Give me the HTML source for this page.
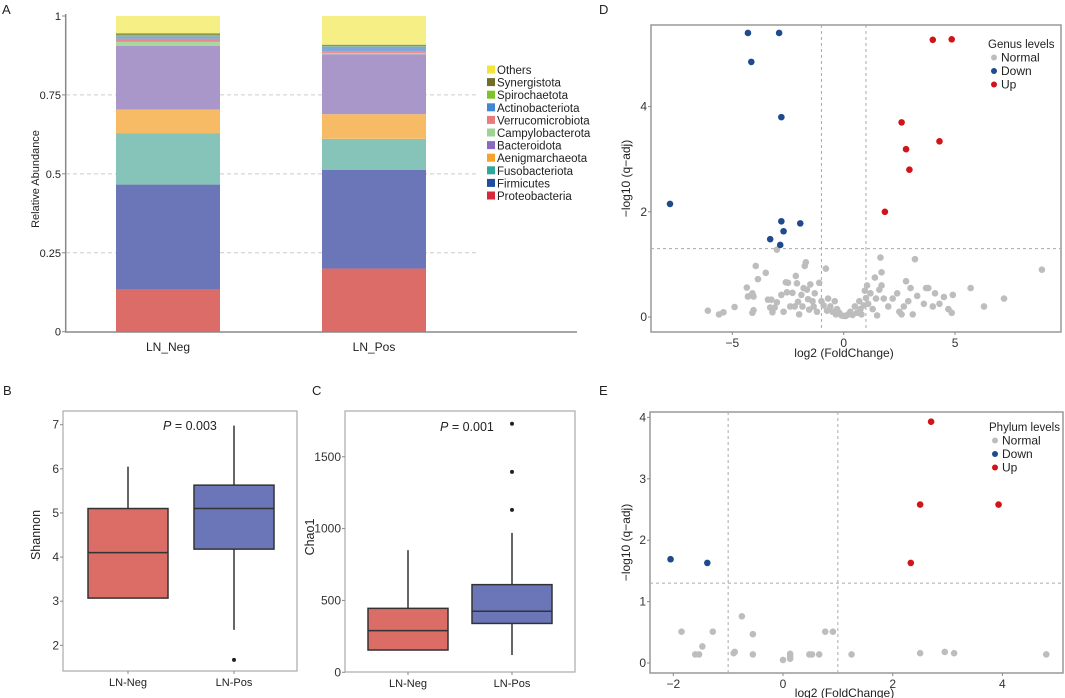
<!DOCTYPE html>
<html><head><meta charset="utf-8"><style>
html,body{margin:0;padding:0;background:#fff}
svg{display:block;font-family:"Liberation Sans",Arial,sans-serif}
</style></head><body>
<svg id="fig" width="1065" height="698" viewBox="0 0 1065 698" xmlns="http://www.w3.org/2000/svg">
<g font-size="13" fill="#222">
<text x="2" y="14">A</text>
<text x="3" y="395">B</text>
<text x="312" y="395">C</text>
<text x="599" y="14">D</text>
<text x="599" y="395">E</text>
</g>
</svg>
<script>
// ---------- Panel A data ----------
const taxa = ["Proteobacteria","Firmicutes","Fusobacteriota","Aenigmarchaeota","Bacteroidota","Campylobacterota","Verrucomicrobiota","Actinobacteriota","Spirochaetota","Synergistota","Others"];
const groupsA = ["LN_Neg","LN_Pos"];
const negValues = [0.133,0.333,0.163,0.075,0.202,0.012,0.010,0.008,0.005,0.004,0.055];
const posValues = [0.200,0.313,0.098,0.078,0.190,0.004,0.005,0.016,0.002,0.003,0.091];
const ticksA = [0,0.25,0.5,0.75,1];
const tickLabelsA = ["0","0.25","0.5","0.75","1"];
// ---------- Panel B data ----------
const groupsBC = ["LN-Neg","LN-Pos"];
const shannonNeg = {lo:3.07,q1:3.07,med:4.1,q3:5.1,hi:6.05};
const shannonPos = {lo:2.35,q1:4.18,med:5.1,q3:5.63,hi:6.98};
const shannonOut = [[1,1.67]];
const ticksB = [2,3,4,5,6,7];
// ---------- Panel C data ----------
const chaoNeg = {lo:155,q1:155,med:290,q3:445,hi:850};
const chaoPos = {lo:120,q1:340,med:425,q3:610,hi:970};
const chaoOut = [[1,1130],[1,1395],[1,1730]];
const ticksC = [0,500,1000,1500];
// ---------- Panel D data ----------
const dDownX = [-4.3,-2.9,-4.15,-2.8,-7.8,-2.8,-1.95,-2.7,-3.3,-2.85];
const dDownY = [5.4,5.4,4.85,3.8,2.15,1.82,1.78,1.63,1.48,1.37];
const dUpX = [4.0,4.85,2.6,4.3,2.8,2.95,1.85];
const dUpY = [5.27,5.28,3.7,3.34,3.19,2.8,2.0];
const dNormX = [-6.1,-5.6,-5.4,-4.9,-4.1,-4.05,-3.95,-4.35,-4.3,-4.05,-4.1,-3.85,-3.5,-3.4,-3.3,-3.25,-3.1,-3.2,-3.0,-3.0,-2.8,-2.7,-2.6,-2.55,-2.5,-2.4,-2.3,-2.2,-2.15,-2.1,-2.05,-2.0,-1.9,-1.85,-1.8,-1.75,-1.7,-1.65,-1.6,-1.55,-1.5,-1.4,-1.35,-1.3,-1.2,-1.1,-1.0,-0.9,-0.8,-0.75,-0.7,-0.6,-0.5,-0.4,-0.35,-0.3,-0.2,-0.1,0,0.1,0.2,0.3,0.4,0.5,0.6,0.7,0.75,0.8,0.9,0.95,1.0,1.05,1.1,1.2,1.3,1.4,1.45,1.5,1.6,1.65,1.7,1.7,1.8,2.0,2.2,2.4,2.5,2.6,2.8,2.7,2.9,3.0,3.1,3.2,3.3,3.6,3.7,3.8,4.0,4.1,4.3,4.5,4.7,4.9,4.85,5.7,6.3,7.2,8.9];
const dNormY = [0.12,0.05,0.09,0.19,0.08,0.13,0.97,0.56,0.39,0.39,0.45,0.72,0.84,0.33,0.18,0.33,0.18,0.09,0.28,1.28,0.42,0.1,0.66,0.47,0.65,0.2,0.46,0.2,0.78,0.64,0.29,0.05,0.42,0.2,0.55,0.97,1.04,0.52,0.34,0.14,0.62,0.3,0.2,0.45,0.1,0.65,0.3,0.22,0.92,0.12,0.35,0.2,0.1,0.3,0.05,0.15,0.08,0.03,0.02,0.02,0.05,0.1,0.04,0.2,0.08,0.3,0.15,0.05,0.22,0.5,0.36,0.6,0.25,0.45,0.15,0.75,0.35,0.03,0.52,1.13,0.85,0.6,0.35,0.2,0.35,0.45,0.1,0.05,0.68,0.2,0.3,0.55,0.05,1.1,0.4,0.25,0.55,0.55,0.2,0.45,0.25,0.38,0.15,0.42,0.08,0.55,0.2,0.35,0.9];
const ticksDX = [-5,0,5];
const ticksDY = [0,2,4];
// ---------- Panel E data ----------
const eDownX = [-2.05,-1.38];
const eDownY = [1.69,1.63];
const eUpX = [2.7,2.5,3.93,2.33];
const eUpY = [3.93,2.58,2.58,1.63];
const eNormX = [-1.85,-1.6,-1.53,-1.47,-1.28,-0.75,-0.9,-0.88,-0.55,-0.55,0,0.13,0.13,0.13,0.48,0.53,0.66,0.77,0.91,1.25,2.5,2.95,3.12,4.8];
const eNormY = [0.51,0.14,0.14,0.27,0.51,0.76,0.16,0.18,0.47,0.14,0.05,0.07,0.11,0.15,0.14,0.14,0.14,0.51,0.51,0.14,0.16,0.18,0.16,0.14];
const ticksEX = [-2,0,2,4];
const ticksEY = [0,1,2,3,4];

const NS="http://www.w3.org/2000/svg";
const svg=document.getElementById('fig');
function mk(tag,attrs,parent,txt){const e=document.createElementNS(NS,tag);for(const k in attrs)e.setAttribute(k,attrs[k]);if(txt!==undefined)e.textContent=txt;(parent||svg).appendChild(e);return e;}
function grp(name){const g=mk('g',{});


return g;}

// ================= Panel A =================
(function(){
const g=grp('panel-a-stacked-bar');
const y=v=>331.7-v*315.7;
const barX=[116,322], barW=104, centers=[168,374];
const colors=["#dc6c68","#6a76b8","#86c3b9","#f7bb66","#a897c8","#a9d7a0","#ea8a8a","#7fa7d9","#8cc63f","#7b7a35","#f5ef86"];
const lcolors=["#d8283c","#1f4ea0","#2fa89a","#f6a22b","#8a6bbf","#9dd494","#ea7b7b","#3f87d0","#7cc42a","#6f6f2a","#f2e63a"];
ticksA.forEach((t,i)=>{
 if(t>0&&t<1){const l=mk('line',{x1:66,x2:477,y1:y(t),y2:y(t),stroke:'#ccc','stroke-dasharray':'4,3','stroke-width':1},g);
 
 }
});
[negValues,posValues].forEach((vals,gi)=>{
 let acc=0;
 vals.forEach((v,i)=>{
  const r=mk('rect',{x:barX[gi],y:y(acc+v),width:barW,height:y(acc)-y(acc+v),fill:colors[i]},g);
  
  
  acc+=v;
 });
 const t=mk('text',{x:centers[gi],y:351,'font-size':12,'text-anchor':'middle',fill:'#222'},g,groupsA[gi]);
 
 
});
mk('line',{x1:65.7,x2:65.7,y1:14,y2:332,stroke:'#888','stroke-width':1.5},g);
mk('line',{x1:65,x2:577,y1:332,y2:332,stroke:'#888','stroke-width':1.5},g);
ticksA.forEach((t,i)=>{
 mk('line',{x1:62,x2:66,y1:y(t),y2:y(t),stroke:'#888'},g);
 const tx=mk('text',{x:61,y:y(t)+4,'font-size':11,'text-anchor':'end',fill:'#222'},g,tickLabelsA[i]);
 
 
});
const yt=mk('text',{x:0,y:0,'font-size':11,'text-anchor':'middle',fill:'#222',transform:'translate(39,179) rotate(-90)'},g,'Relative Abundance');


for(let i=taxa.length-1,row=0;i>=0;i--,row++){
 const yy=70+row*12.6;
 const s=mk('rect',{x:487,y:yy-4.5,width:8,height:8,fill:lcolors[i]},g);
 
 
 const t=mk('text',{x:497,y:yy+4,'font-size':11.5,fill:'#222'},g,taxa[i]);
 
 
}
})();

// ================= Box plots =================
function boxPanel(name,box,ticks,yfn,centers,stats,outs,ptext,px,py,title,tx,ty){
 const g=grp(name);
 mk('rect',{x:box[0],y:box[1],width:box[2]-box[0],height:box[3]-box[1],fill:'none',stroke:'#aaa','stroke-width':1.2},g);
 ticks.forEach(t=>{
  mk('line',{x1:box[0]-3,x2:box[0],y1:yfn(t),y2:yfn(t),stroke:'#888'},g);
  const tl=mk('text',{x:box[0]-4,y:yfn(t)+4,'font-size':12,'text-anchor':'end',fill:'#333'},g,String(t));
  
  
 });
 const fills=['#dc6c66','#6a76b8'];
 stats.forEach((s,i)=>{
  const c=centers[i],w=40;
  mk('line',{x1:c,x2:c,y1:yfn(s.hi),y2:yfn(s.lo),stroke:'#333','stroke-width':1.5},g);
  const r=mk('rect',{x:c-w,y:yfn(s.q3),width:2*w,height:yfn(s.q1)-yfn(s.q3),fill:fills[i],stroke:'#333','stroke-width':1.5},g);
  
  
  mk('line',{x1:c-w,x2:c+w,y1:yfn(s.med),y2:yfn(s.med),stroke:'#333','stroke-width':1.5},g);
  mk('line',{x1:c,x2:c,y1:box[3],y2:box[3]+3,stroke:'#888'},g);
  const xl=mk('text',{x:c,y:box[3]+15,'font-size':11,'text-anchor':'middle',fill:'#222'},g,groupsBC[i]);
  
  
 });
 outs.forEach(o=>{
  const d=mk('circle',{cx:centers[o[0]],cy:yfn(o[1]),r:2,fill:'#222'},g);
  
  
 });
 const pt=mk('text',{x:px,y:py,'font-size':12.5,fill:'#222'},g);
 
 
 mk('tspan',{'font-style':'italic'},pt,'P');
 mk('tspan',{},pt,ptext);
 const ttl=mk('text',{x:0,y:0,'font-size':12.5,'text-anchor':'middle',fill:'#222',transform:`translate(${tx},${ty}) rotate(-90)`},g,title);
 
 
}
boxPanel('panel-b-shannon',[63,411,297,671],ticksB,v=>645.3-(v-2)*44.12,[128,234],[shannonNeg,shannonPos],shannonOut,' = 0.003',163,430,'Shannon',40,535);
boxPanel('panel-c-chao1',[345,411,575,672],ticksC,v=>672.3-v*0.1437,[408,512],[chaoNeg,chaoPos],chaoOut,' = 0.001',440,431,'Chao1',314,537);

// ================= Volcano =================
function volcano(name,box,xfn,yfn,xt,yt,nx,ny,dx,dy,ux,uy,legTitle,lx,ly,xtitleY,ytitleX){
 const g=grp(name);
 mk('rect',{x:box[0],y:box[1],width:box[2]-box[0],height:box[3]-box[1],fill:'none',stroke:'#999','stroke-width':1.5},g);
 [-1,1].forEach(v=>mk('line',{x1:xfn(v),x2:xfn(v),y1:box[1],y2:box[3],stroke:'#aaa','stroke-dasharray':'3,3'},g));
 mk('line',{x1:box[0],x2:box[2],y1:yfn(1.3),y2:yfn(1.3),stroke:'#aaa','stroke-dasharray':'3,3'},g);
 xt.forEach(t=>{mk('line',{x1:xfn(t),x2:xfn(t),y1:box[3],y2:box[3]+3,stroke:'#888'},g);
  const l=mk('text',{x:xfn(t),y:box[3]+15,'font-size':12,'text-anchor':'middle',fill:'#333'},g,t<0?'\u2212'+(-t):String(t));
  
  });
 yt.forEach(t=>{mk('line',{x1:box[0]-3,x2:box[0],y1:yfn(t),y2:yfn(t),stroke:'#888'},g);
  const l=mk('text',{x:box[0]-4,y:yfn(t)+4,'font-size':12,'text-anchor':'end',fill:'#333'},g,String(t));
  
  });
 const pts=(X,Y,c,n)=>X.forEach((x,i)=>{const p=mk('circle',{cx:xfn(x),cy:yfn(Y[i]),r:3.3,fill:c},g);
  
  });
 pts(nx,ny,'#bdbdbd','point-normal');pts(dx,dy,'#1f4a8c','point-down');pts(ux,uy,'#d0141a','point-up');
 const lt=mk('text',{x:lx,y:ly,'font-size':11.5,fill:'#222'},g,legTitle);
 
 
 [['Normal','#bdbdbd'],['Down','#1f4a8c'],['Up','#d0141a']].forEach((e,i)=>{
  const yy=ly+13.5*(i+1);
  mk('circle',{cx:lx+6,cy:yy-4,r:3,fill:e[1]},g);
  const t=mk('text',{x:lx+13,y:yy,'font-size':12,fill:'#222'},g,e[0]);
  
  
 });
 const xt2=mk('text',{x:(box[0]+box[2])/2-12,y:xtitleY,'font-size':12,'text-anchor':'middle',fill:'#222'},g,'log2 (FoldChange)');
 
 
 const yt2=mk('text',{x:0,y:0,'font-size':12,'text-anchor':'middle',fill:'#222',transform:`translate(${ytitleX},${(box[1]+box[3])/2}) rotate(-90)`},g,'\u2212log10 (q\u2212adj)');
 
 
}
volcano('panel-d-genus-volcano',[651,25,1061,332],x=>843.7+x*22.27,y=>317-y*52.6,ticksDX,ticksDY,dNormX,dNormY,dDownX,dDownY,dUpX,dUpY,'Genus levels',988,48,357,630);
volcano('panel-e-phylum-volcano',[650,412,1063,673],x=>783+x*54.85,y=>663-y*61.4,ticksEX,ticksEY,eNormX,eNormY,eDownX,eDownY,eUpX,eUpY,'Phylum levels',989,431,697,630);
</script>
</body></html>
